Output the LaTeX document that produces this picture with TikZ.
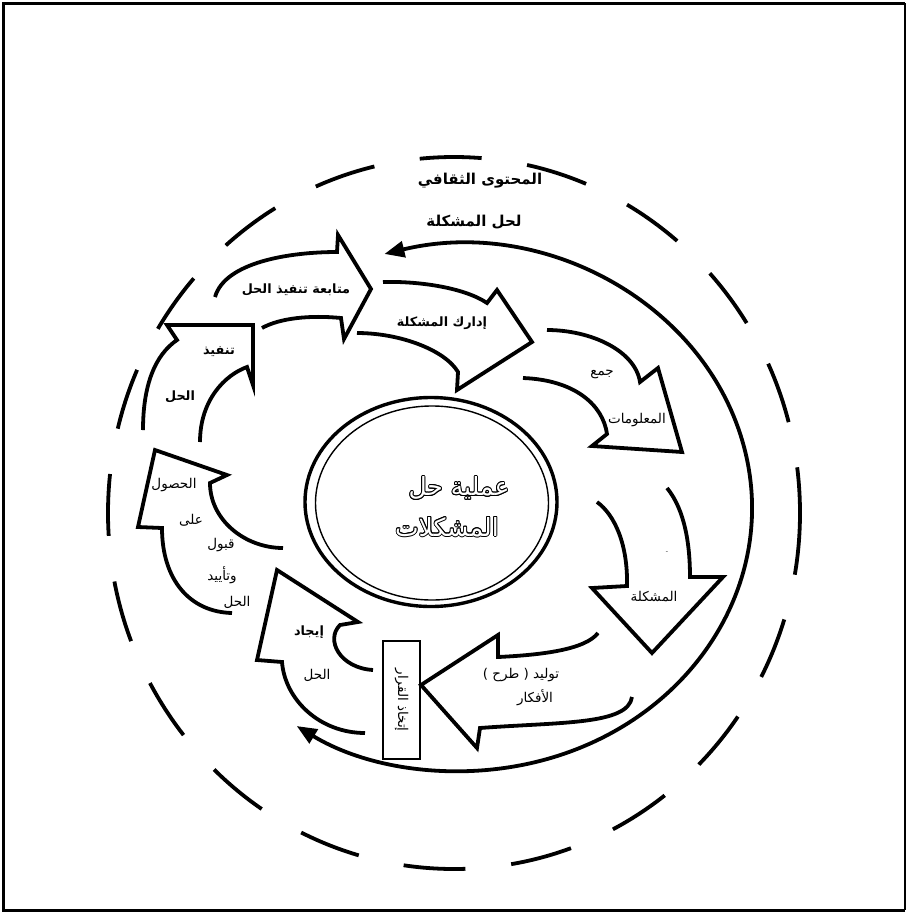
\documentclass[tikz,border=0pt]{standalone}
\usepackage{fontspec}
\usetikzlibrary{arrows.meta}
\newfontfamily\arfont[Script=Arabic]{DejaVu Sans}
\TeXXeTstate=1
\newcommand{\rl}[1]{\beginR #1\endR}

\begin{document}
\begin{tikzpicture}[x=1pt,y=-1pt,
  blockarrow/.style={line width=3.8pt, line join=miter, miter limit=10},
  cycleline/.style={line width=3.8pt},
  dashring/.style={line width=3.8pt, dash pattern=on 62pt off 46pt},
  lbl/.style={font=\arfont\fontsize{13.5}{15}\selectfont, inner sep=1pt},
  lblb/.style={font=\arfont\bfseries\fontsize{12.8}{15}\selectfont, inner sep=1pt},
  ttl/.style={font=\arfont\bfseries\fontsize{15}{17}\selectfont, inner sep=1pt, fill=white},
  ctr/.style={font=\arfont\fontsize{25}{27}\selectfont, inner sep=0pt},
  tipshape/.tip={Triangle[length=20pt,width=16pt]}
]
\useasboundingbox (0,0) rectangle (908,914);

% page frame
\draw[line width=3pt] (905,910) -- (3,910) -- (3,3) -- (905,3);
\draw[line width=1.2pt] (905,3) -- (905,910);

% cultural context ring
\draw[dashring] (454,513) ellipse [x radius=346, y radius=356];

% problem solving cycle, two-headed
\draw[cycleline, tipshape-tipshape] (460,508) ++(-105:292 and 263)
  arc [start angle=-105, end angle=124, x radius=292, y radius=263];

% central double ellipse
\draw[line width=3.4pt] (431,502) ellipse [x radius=126, y radius=104.5];
\draw[line width=1.4pt] (432,503) ellipse [x radius=116.5, y radius=97];

% curved block arrows (tails left open)
\draw[blockarrow] (215,297) .. controls (225,262) and (290,252) .. (337,252)
  -- (338,235) -- (371,289) -- (344,339) -- (341,318)
  .. controls (310,315) and (280,318) .. (262,328);
\draw[blockarrow] (383,282) .. controls (420,281) and (465,288) .. (487,303)
  -- (497,290) -- (532,342) -- (457,390) -- (458,372)
  .. controls (445,350) and (400,333) .. (357,333);
\draw[blockarrow] (547,330) .. controls (590,330) and (635,350) .. (640,382)
  -- (658,368) -- (682,452) -- (592,446) -- (607,434)
  .. controls (603,405) and (575,380) .. (523,378);
\draw[blockarrow] (667,488) .. controls (685,510) and (690,545) .. (690,577)
  -- (723,577) -- (652,653) -- (592,588) -- (627,586)
  .. controls (628,545) and (615,515) .. (597,502);
\draw[blockarrow] (598,633) .. controls (585,650) and (540,655) .. (498,657)
  -- (498,635) -- (421,685) -- (477,748) -- (480,728)
  .. controls (560,722) and (628,725) .. (632,697);
\draw[blockarrow] (373,670) .. controls (340,668) and (325,640) .. (340,625)
  -- (358,622) -- (277,570) -- (257,660) -- (282,662)
  .. controls (285,700) and (320,733) .. (365,733);
\draw[blockarrow] (283,548) .. controls (245,548) and (210,520) .. (210,483)
  -- (227,475) -- (155,450) -- (138,527) -- (162,528)
  .. controls (162,580) and (190,612) .. (232,613);
\draw[blockarrow] (200,442) .. controls (200,400) and (225,375) .. (247,367)
  -- (253,385) -- (253,325) -- (167,325) -- (177,340)
  .. controls (155,355) and (143,385) .. (143,430);

% decision box
\node[draw, line width=1.3pt, minimum width=37pt, minimum height=118pt, inner sep=0pt] (dec) at (401.5,700) {};
\node[lbl, rotate=-90] (dectext) at (dec.center) {\rl{إتخاذ القرار}};

% titles
\node[ttl] (ctx) at (480,181) {\rl{المحتوى الثقافي}};
\node[ttl] (sol) at (474,222) {\rl{لحل المشكلة}};

% arrow labels
\node[lblb] (t1) at (296,290) {\rl{متابعة تنفيذ الحل}};
\node[lblb] (t2) at (442,323) {\rl{إدارك المشكلة}};
\node[lbl] (t3a) at (602,374) {\rl{جمع}};
\node[lbl] (t3b) at (637,420) {\rl{المعلومات}};
\node[lbl, font=\fontsize{6}{6}\selectfont] (t4m) at (667,553) {-};
\node[lbl] (t4) at (654,597) {\rl{المشكلة}};
\node[lbl] (t5a) at (521,675) {) \rl{طرح} ( \rl{توليد}};
\node[lbl] (t5b) at (535,698) {\rl{الأفكار}};
\node[lblb] (t6a) at (309,632) {\rl{إيجاد}};
\node[lbl] (t6b) at (317,675) {\rl{الحل}};
\node[lbl] (t7a) at (174,485) {\rl{الحصول}};
\node[lbl] (t7b) at (191,520) {\rl{على}};
\node[lbl] (t7c) at (221,545) {\rl{قبول}};
\node[lbl] (t7d) at (222,575) {\rl{وتأييد}};
\node[lbl] (t7e) at (237,602) {\rl{الحل}};
\node[lblb] (t8a) at (219,352) {\rl{تنفيذ}};
\node[lblb] (t8b) at (180,397) {\rl{الحل}};

% outlined centre title: black copies around, white on top
\foreach \a in {0,30,...,330} {
  \path (459,488) ++(\a:0.9) node[ctr, text=black] (ca\a) {\rl{عملية حل}};
  \path (447,527) ++(\a:0.9) node[ctr, text=black] (cb\a) {\rl{المشكلات}};
}
\node[ctr, text=white] (c1) at (459,488) {\rl{عملية حل}};
\node[ctr, text=white] (c2) at (447,527) {\rl{المشكلات}};
\end{tikzpicture}
\end{document}
